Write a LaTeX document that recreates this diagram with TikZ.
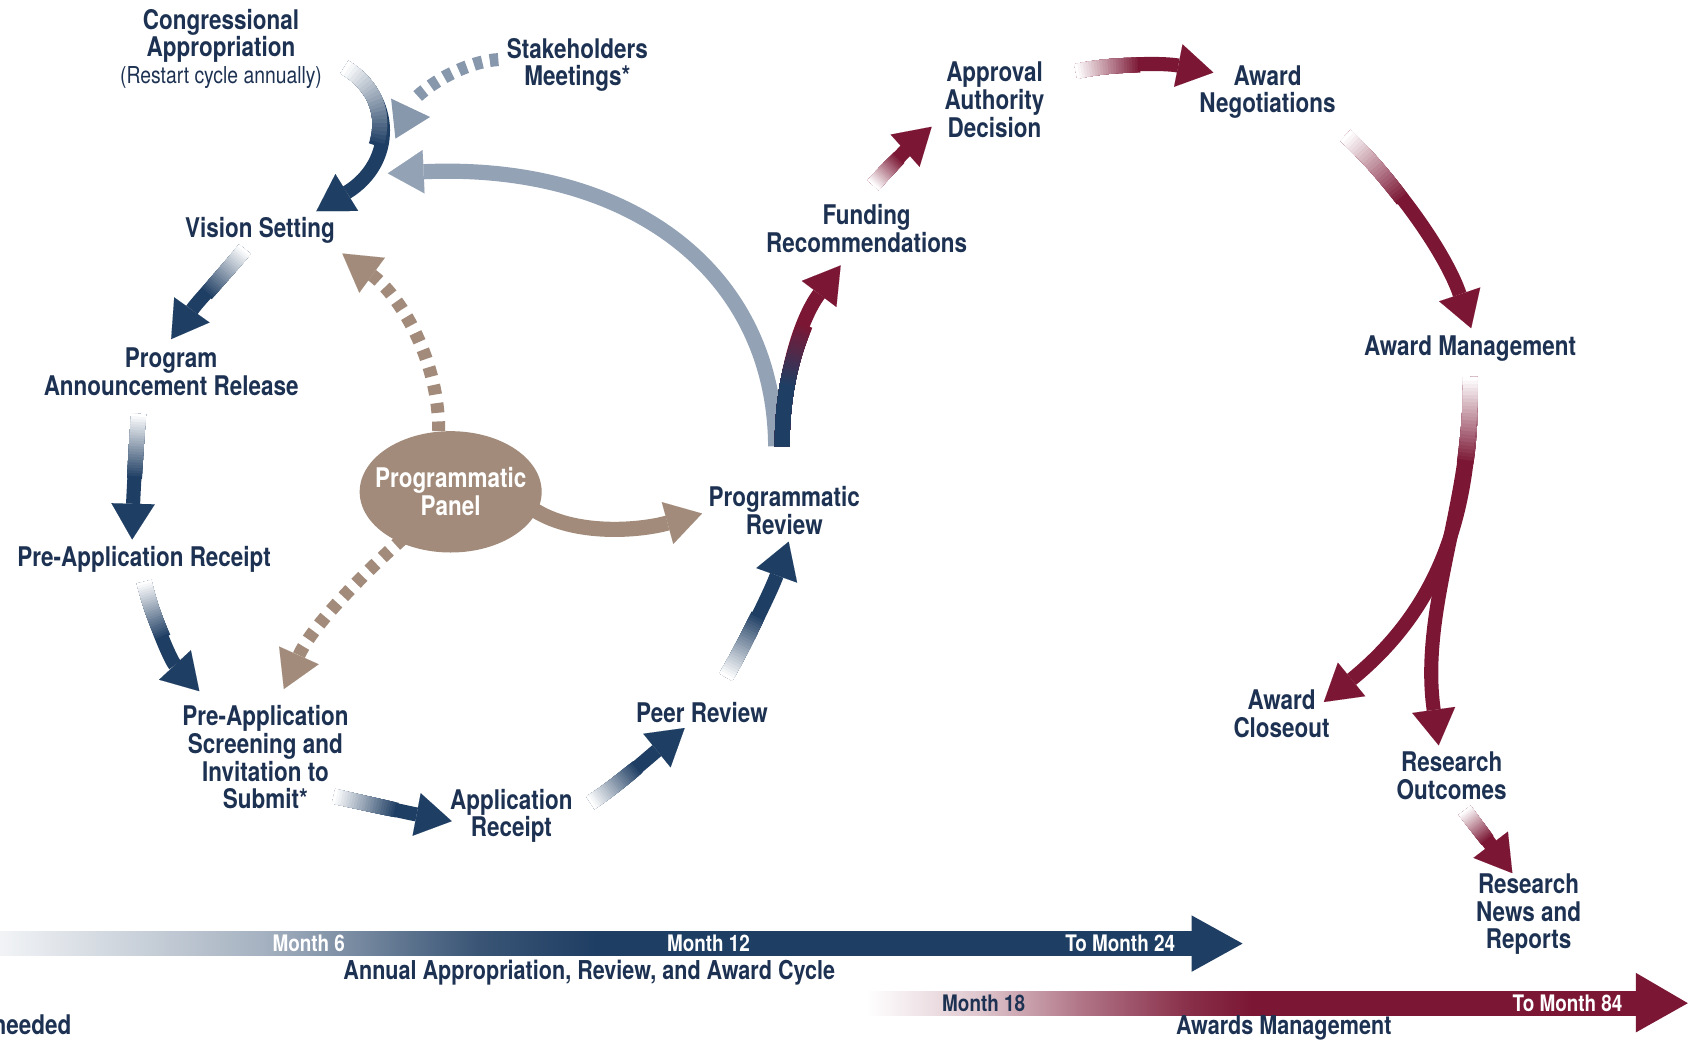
\documentclass[tikz,border=0pt]{standalone}
\usepackage{fontspec}
\setmainfont{TeX Gyre Heros}[FakeStretch=0.83]
\usetikzlibrary{arrows.meta,shapes.geometric}
\definecolor{navy}{HTML}{1F3E63}
\definecolor{maroon}{HTML}{7B1735}
\definecolor{steel}{HTML}{93A2B5}
\definecolor{steeldk}{HTML}{8797AC}
\definecolor{taupe}{HTML}{A28B7A}
\definecolor{txt}{HTML}{1D3252}
\pgfdeclarehorizontalshading{bluebar}{100bp}{color(0bp)=(navy!6); color(25bp)=(navy!6); color(36bp)=(navy!40); color(45bp)=(navy!88); color(50bp)=(navy); color(100bp)=(navy)}
\pgfdeclarehorizontalshading{redbar}{100bp}{color(0bp)=(white); color(25bp)=(white); color(32.5bp)=(maroon!25); color(39bp)=(maroon!60); color(46bp)=(maroon!90); color(50bp)=(maroon); color(100bp)=(maroon)}
\newcommand\fadepath[6]{%
  \foreach \i in {24,23,...,1}{%
    \pgfmathsetmacro\fL{#3+(#4-#3)*\i/24}%
    \pgfmathtruncatemacro\fP{100*(\i-1)/23}%
    \draw[line width=#5, color=#2!\fP!#1, dash pattern=on \fL pt off 5000pt] #6;
  }}
\newcommand\garrow[5]{\draw[conn,#2] #5; \fadepath{#1}{#2}{#3}{#4}{13.8pt}{#5}}
\tikzset{
  lbl/.style={font=\bfseries\fontsize{25}{25.5}\selectfont, text=txt, align=center, inner sep=0pt},
  barlbl/.style={font=\bfseries\fontsize{21}{21}\selectfont, text=white, inner sep=0pt},
  conn/.style={line width=13pt, -{Triangle[width=40pt,length=33pt,line width=0.01pt]}},
  dashconn/.style={line width=12pt, dash pattern=on 9pt off 8pt, -{Triangle[width=40pt,length=34pt,line width=0.01pt]}},
}
\begin{document}
\begin{tikzpicture}[x=1pt,y=-1pt]
\useasboundingbox (0,0) rectangle (1560,972);
% ---------- nodes ----------
\node[lbl] (cong) at (204,33) {Congressional\\Appropriation};
\node[font=\fontsize{21.5}{22}\selectfont, text=txt, inner sep=0pt] (restart) at (204,72) {(Restart cycle annually)};
\node[lbl] (stake) at (533,60) {Stakeholders\\Meetings*};
\node[lbl] (vision) at (240,213) {Vision Setting};
\node[lbl] (progann) at (158,343) {Program\\Announcement Release};
\node[lbl] (prerec) at (133,516) {Pre-Application Receipt};
\node[lbl] (prescreen) at (245,699) {Pre-Application\\Screening and\\Invitation to\\Submit*};
\node[lbl] (apprec) at (472,753) {Application\\Receipt};
\node[lbl] (peer) at (648,658) {Peer Review};
\node[lbl] (progrev) at (724,471) {Programmatic\\Review};
\node[ellipse, fill=taupe, minimum width=168pt, minimum height=112pt, inner sep=0pt] (panel) at (416,454) {};
\node[lbl, text=white] (paneltxt) at (panel.center) {Programmatic\\Panel};
\node[lbl] (funding) at (800,211) {Funding\\Recommendations};
\node[lbl] (approval) at (918,92) {Approval\\Authority\\Decision};
\node[lbl] (awneg) at (1170,85) {Award\\Negotiations};
\node[lbl] (awman) at (1357,322) {Award Management};
\node[lbl] (closeout) at (1183,659) {Award\\Closeout};
\node[lbl] (outcomes) at (1340,716) {Research\\Outcomes};
\node[lbl] (news) at (1411,844) {Research\\News and\\Reports};
\node[lbl, anchor=east] (needed) at (66,946) {needed};
% ---------- connector end points ----------
\coordinate (a1s) at (318,62);   \coordinate (a1e) at (292,195);
\coordinate (a2s) at (460,55);   \coordinate (a2e) at (384,90);
\coordinate (a3s) at (716,412);  \coordinate (a3e) at (358,160);
\coordinate (a4s) at (226,230);  \coordinate (a4e) at (158,313);
\coordinate (a5s) at (128,382);  \coordinate (a5e) at (122,498);
\coordinate (a6s) at (133,537);  \coordinate (a6e) at (184,638);
\coordinate (a7s) at (308,735);  \coordinate (a7e) at (417,758);
\coordinate (a8s) at (545,741);  \coordinate (a8e) at (632,672);
\coordinate (a9s) at (670,625);  \coordinate (a9e) at (728,500);
\coordinate (a10s) at (722,412); \coordinate (a10e) at (776,245);
\coordinate (a11s) at (806,171); \coordinate (a11e) at (860,117);
\coordinate (a12s) at (993,66);  \coordinate (a12e) at (1120,67);
\coordinate (a13s) at (1242,125);\coordinate (a13e) at (1358,303);
\coordinate (a14s) at (1357,348);\coordinate (a14l) at (1222,648); \coordinate (a14r) at (1328,688);
\coordinate (a15s) at (1352,748);\coordinate (a15e) at (1396,806);
\coordinate (a16s) at (405,398); \coordinate (a16e) at (316,234);
\coordinate (a17s) at (372,497); \coordinate (a17e) at (262,636);
\coordinate (a18s) at (492,470); \coordinate (a18e) at (648,474);
% ---------- feedback / panel connectors ----------
\draw[conn, steel, line width=14pt] (a3s) .. controls (715,250) and (580,150) .. (a3e);
\draw[steeldk, line width=12pt, dash pattern=on 8pt off 7pt] (a2s) .. controls (440,56) and (408,68) .. (a2e);
\fill[steeldk] (361,91) -- (397,108) -- (365,128) -- cycle;
\draw[dashconn, taupe] (a16s) .. controls (405,330) and (368,272) .. (a16e);
\draw[dashconn, taupe] (a17s) .. controls (335,530) and (288,578) .. (a17e);
\draw[conn, taupe, line width=14pt] (a18s) .. controls (530,495) and (590,490) .. (a18e);
% ---------- main cycle ----------
\garrow{white}{navy}{0}{85}{(a1s) .. controls (365,90) and (365,150) .. (a1e)}
\garrow{white}{navy}{0}{55}{(a4s) .. controls (210,250) and (185,275) .. (a4e)}
\garrow{white}{navy}{0}{60}{(a5s) .. controls (125,420) and (123,460) .. (a5e)}
\garrow{white}{navy}{0}{55}{(a6s) .. controls (142,575) and (158,610) .. (a6e)}
\garrow{white}{navy}{0}{60}{(a7s) .. controls (340,742) and (375,750) .. (a7e)}
\garrow{white}{navy}{0}{55}{(a8s) .. controls (570,725) and (600,698) .. (a8e)}
\garrow{white}{navy}{0}{65}{(a9s) .. controls (690,590) and (712,545) .. (a9e)}
\garrow{navy}{maroon}{55}{115}{(a10s) .. controls (722,340) and (742,290) .. (a10e)}
\garrow{white}{maroon}{0}{35}{(a11s) .. controls (820,155) and (840,135) .. (a11e)}
\garrow{white}{maroon}{0}{60}{(a12s) .. controls (1030,58) and (1075,58) .. (a12e)}
\garrow{white}{maroon}{0}{80}{(a13s) .. controls (1290,170) and (1335,235) .. (a13e)}
\garrow{white}{maroon}{0}{80}{(a14s) .. controls (1360,470) and (1330,560) .. (a14l)}
\garrow{white}{maroon}{0}{80}{(a14s) .. controls (1360,460) and (1310,560) .. (a14r)}
\garrow{white}{maroon}{0}{35}{(a15s) .. controls (1365,765) and (1380,785) .. (a15e)}
% ---------- timeline bars ----------
\shade[shading=bluebar] (0,860) rectangle (1101,882);
\fill[navy] (1100,845) -- (1147,871) -- (1100,897) -- cycle;
\node[barlbl] (m6) at (285,871) {Month 6};
\node[barlbl] (m12) at (654,871) {Month 12};
\node[barlbl] (m24) at (1034,871) {To Month 24};
\node[lbl, font=\bfseries\fontsize{24}{24}\selectfont] (annual) at (544,898) {Annual Appropriation, Review, and Award Cycle};
\shade[shading=redbar] (800,915) rectangle (1511,937);
\fill[maroon] (1510,898) -- (1558,926) -- (1510,953) -- cycle;
\node[barlbl, text=txt] (m18) at (908,926) {Month 18};
\node[barlbl] (m84) at (1447,926) {To Month 84};
\node[lbl, font=\bfseries\fontsize{24}{24}\selectfont] (awards) at (1185,949) {Awards Management};
\end{tikzpicture}
\end{document}
